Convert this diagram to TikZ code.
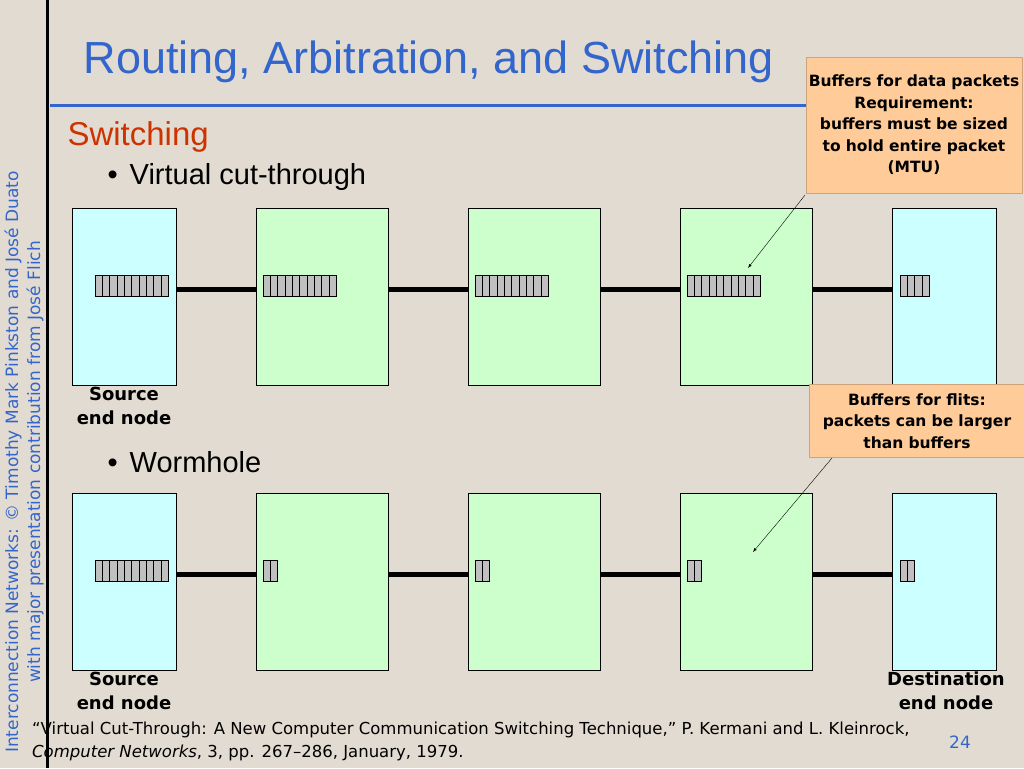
\documentclass[tikz,border=0pt]{standalone}
\usepackage{fontspec}
\setmainfont{DejaVu Sans}
\newfontfamily\titlefont{Liberation Sans}
\usepackage{xcolor}
\definecolor{slidebg}{RGB}{226,219,209}
\definecolor{titleblue}{RGB}{51,102,204}
\definecolor{subred}{RGB}{204,51,0}
\definecolor{endfill}{RGB}{204,255,255}
\definecolor{swfill}{RGB}{204,255,204}
\definecolor{notefill}{RGB}{255,204,153}
\definecolor{slotfill}{RGB}{192,192,192}
\tikzset{
    x=1pt, y=-1pt,
    end-box/.style = {draw=black, fill=endfill, thick},
    sw-box/.style = {draw=black, fill=swfill, thick},
    slot/.style = {draw=black, fill=slotfill, thin},
    link/.style = {line width=5pt},
    note-box/.style = {fill=notefill, draw=notefill!80!black, text width=212pt, inner sep=2pt, align=center, font=\bfseries\fontsize{15.5}{21.5}\selectfont},
    end-label/.style = {align=center, font=\bfseries\fontsize{18}{24}\selectfont},
    bullet/.style = {anchor=west, font=\titlefont\fontsize{29}{34}\selectfont},
}
% buffer of #1 slots, left edge #2, top #3, slot width #4
\newcommand{\slots}[4]{%
    \foreach \k in {1,...,#1}
        {\draw[slot] ({#2+(\k-1)*#4},#3) rectangle ++(#4,21);}
}
\begin{document}
\begin{tikzpicture}
\fill[slidebg] (0,0) rectangle (1024,768);
\useasboundingbox (0,0) rectangle (1024,768);
\draw[line width=3pt] (47,0) -- (47,768);
\draw[titleblue, line width=3pt] (50,105) -- (806,105);
\node[anchor=west, text=titleblue, font=\titlefont\fontsize{45}{52}\selectfont] (title) at (80,62) {Routing, Arbitration, and Switching};
\node[anchor=west, text=subred, font=\titlefont\fontsize{33}{38}\selectfont] (sub) at (64,137) {Switching};
\node[bullet] (b1) at (104,177) {\textbullet\hspace{12pt}Virtual cut-through};
\node[bullet] (b2) at (104,462) {\textbullet\hspace{12pt}Wormhole};
\node[rotate=90, anchor=center, text=titleblue, align=center, font=\fontsize{17}{22}\selectfont] (side) at (24,462)
    {Interconnection Networks: \textcopyright\ Timothy Mark Pinkston and José Duato\\ with major presentation contribution from José Flich};

% rows of nodes
\foreach \row/\yt in {top/208, bot/493} {
    \node[end-box, minimum width=104pt, minimum height=177pt, anchor=north west, inner sep=0pt] (src-\row) at (72,\yt) {};
    \foreach \i/\xl in {1/256, 2/468, 3/680}
        \node[sw-box, minimum width=132pt, minimum height=177pt, anchor=north west, inner sep=0pt] (sw\i-\row) at (\xl,\yt) {};
    \node[end-box, minimum width=104pt, minimum height=177pt, anchor=north west, inner sep=0pt] (dst-\row) at (892,\yt) {};
}
\foreach \row/\yl in {top/289, bot/574} {
    \draw[link] (src-\row.east |- 0,\yl) -- (sw1-\row.west |- 0,\yl);
    \draw[link] (sw1-\row.east |- 0,\yl) -- (sw2-\row.west |- 0,\yl);
    \draw[link] (sw2-\row.east |- 0,\yl) -- (sw3-\row.west |- 0,\yl);
    \draw[link] (sw3-\row.east |- 0,\yl) -- (dst-\row.west |- 0,\yl);
}
% buffers
\slots{10}{95}{275}{7.3}
\slots{10}{263}{275}{7.3}
\slots{10}{475}{275}{7.3}
\slots{10}{687}{275}{7.3}
\slots{4}{900}{275}{7.3}
\slots{10}{95}{560}{7.3}
\foreach \xl in {263, 475, 687, 900}
    {\slots{2}{\xl}{560}{7.3}}

\node[end-label] (l1) at (124,406) {Source\\end node};
\node[end-label] (l2) at (124,691) {Source\\end node};
\node[end-label] (l3) at (946,691) {Destination\\end node};

\node[note-box, minimum height=136pt] (n1) at (914,125) {Buffers for data packets\\Requirement:\\buffers must be sized\\ to hold entire packet\\(MTU)};
\node[note-box, minimum height=73pt] (n2) at (917,421) {Buffers for flits:\\packets can be larger\\than buffers};
\coordinate (t1) at (748,268);
\coordinate (t2) at (753,552);
\draw[-latex, thin] (805,195) -- (t1);
\draw[-latex, thin] (832,458) -- (t2);

\node[anchor=north west, align=left, font=\fontsize{16.5}{23}\selectfont, inner sep=0pt] (ref) at (32,722)
    {``Virtual Cut-Through: A New Computer Communication Switching Technique,'' P. Kermani and L. Kleinrock,\\\textit{Computer Networks}, 3, pp. 267--286, January, 1979.};
\node[text=titleblue, font=\fontsize{17}{20}\selectfont] (page) at (960,742) {24};
\end{tikzpicture}
\end{document}
